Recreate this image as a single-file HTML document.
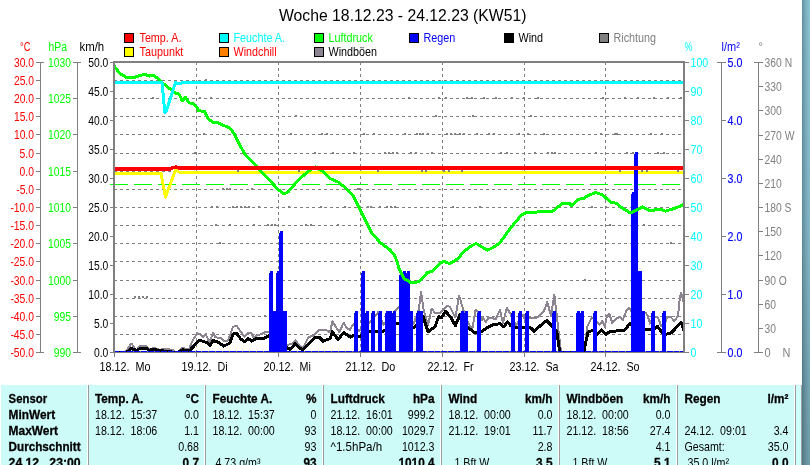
<!DOCTYPE html>
<html lang="de"><head><meta charset="utf-8"><title>Woche 18.12.23 - 24.12.23 (KW51)</title>
<style>html,body{margin:0;padding:0;background:#fff;overflow:hidden}svg{display:block;font-family:"Liberation Sans",Arial,sans-serif;font-size:12.8px}text{white-space:pre}</style></head><body>
<svg width="810" height="465" viewBox="0 0 810 465">
<defs><linearGradient id="strip" x1="0" y1="0" x2="1" y2="0"><stop offset="0" stop-color="#5a8c9e"/><stop offset="0.12" stop-color="#6a9aaa"/><stop offset="0.5" stop-color="#7fb0c0"/><stop offset="1" stop-color="#8cc6d6"/></linearGradient><linearGradient id="strip2" x1="0" y1="0" x2="0" y2="1"><stop offset="0" stop-color="#000" stop-opacity="0"/><stop offset="0.5" stop-color="#000" stop-opacity="0.06"/><stop offset="1" stop-color="#000" stop-opacity="0.2"/></linearGradient><clipPath id="pc"><rect x="114" y="62" width="571" height="291"/></clipPath></defs>
<rect width="810" height="465" fill="#fff"/>
<rect x="802" y="0" width="8" height="465" fill="url(#strip)"/>
<rect x="802" y="0" width="8" height="465" fill="url(#strip2)"/>
<g shape-rendering="crispEdges">
<rect x="124.5" y="33.5" width="9" height="9" fill="#ff0000" stroke="#000" stroke-width="1"/>
<rect x="124.5" y="47.5" width="9" height="9" fill="#ffff00" stroke="#000" stroke-width="1"/>
<rect x="219.5" y="33.5" width="9" height="9" fill="#00ffff" stroke="#000" stroke-width="1"/>
<rect x="219.5" y="47.5" width="9" height="9" fill="#ff8000" stroke="#000" stroke-width="1"/>
<rect x="314.5" y="33.5" width="9" height="9" fill="#00ff00" stroke="#000" stroke-width="1"/>
<rect x="314.5" y="47.5" width="9" height="9" fill="#8c8490" stroke="#000" stroke-width="1"/>
<rect x="409.5" y="33.5" width="9" height="9" fill="#0000ff" stroke="#000" stroke-width="1"/>
<rect x="504.5" y="33.5" width="9" height="9" fill="#000000" stroke="#000" stroke-width="1"/>
<rect x="599.5" y="33.5" width="9" height="9" fill="#808080" stroke="#000" stroke-width="1"/>
</g>
<g shape-rendering="crispEdges">
<line x1="114" x2="684" y1="80.5" y2="80.5" stroke="#808080" stroke-width="1" stroke-dasharray="3 3"/>
<line x1="114" x2="684" y1="98.5" y2="98.5" stroke="#808080" stroke-width="1" stroke-dasharray="3 3"/>
<line x1="114" x2="684" y1="116.5" y2="116.5" stroke="#808080" stroke-width="1" stroke-dasharray="3 3"/>
<line x1="114" x2="684" y1="134.5" y2="134.5" stroke="#808080" stroke-width="1" stroke-dasharray="3 3"/>
<line x1="114" x2="684" y1="153.5" y2="153.5" stroke="#808080" stroke-width="1" stroke-dasharray="3 3"/>
<line x1="114" x2="684" y1="171.5" y2="171.5" stroke="#808080" stroke-width="1" stroke-dasharray="3 3"/>
<line x1="114" x2="684" y1="189.5" y2="189.5" stroke="#808080" stroke-width="1" stroke-dasharray="3 3"/>
<line x1="114" x2="684" y1="207.5" y2="207.5" stroke="#808080" stroke-width="1" stroke-dasharray="3 3"/>
<line x1="114" x2="684" y1="225.5" y2="225.5" stroke="#808080" stroke-width="1" stroke-dasharray="3 3"/>
<line x1="114" x2="684" y1="243.5" y2="243.5" stroke="#808080" stroke-width="1" stroke-dasharray="3 3"/>
<line x1="114" x2="684" y1="261.5" y2="261.5" stroke="#808080" stroke-width="1" stroke-dasharray="3 3"/>
<line x1="114" x2="684" y1="280.5" y2="280.5" stroke="#808080" stroke-width="1" stroke-dasharray="3 3"/>
<line x1="114" x2="684" y1="298.5" y2="298.5" stroke="#808080" stroke-width="1" stroke-dasharray="3 3"/>
<line x1="114" x2="684" y1="316.5" y2="316.5" stroke="#808080" stroke-width="1" stroke-dasharray="3 3"/>
<line x1="114" x2="684" y1="334.5" y2="334.5" stroke="#808080" stroke-width="1" stroke-dasharray="3 3"/>
<line x1="196.5" x2="196.5" y1="62" y2="352" stroke="#808080" stroke-width="1" stroke-dasharray="3 3"/>
<line x1="278.5" x2="278.5" y1="62" y2="352" stroke="#808080" stroke-width="1" stroke-dasharray="3 3"/>
<line x1="360.5" x2="360.5" y1="62" y2="352" stroke="#808080" stroke-width="1" stroke-dasharray="3 3"/>
<line x1="442.5" x2="442.5" y1="62" y2="352" stroke="#808080" stroke-width="1" stroke-dasharray="3 3"/>
<line x1="524.5" x2="524.5" y1="62" y2="352" stroke="#808080" stroke-width="1" stroke-dasharray="3 3"/>
<line x1="605.5" x2="605.5" y1="62" y2="352" stroke="#808080" stroke-width="1" stroke-dasharray="3 3"/>
</g>
<g clip-path="url(#pc)" shape-rendering="crispEdges">
</g>
<g shape-rendering="crispEdges">
<line x1="110" x2="684" y1="184.5" y2="184.5" stroke="#00ff00" stroke-width="1" stroke-dasharray="18 6"/>
</g>
<g clip-path="url(#pc)" shape-rendering="crispEdges">
<rect x="114" y="351" width="570" height="1" fill="#808080"/>
<polyline points="114.0,352.6 124.8,352.6 131.4,343.6 136.2,350.5 140.5,345.5 146.2,345.5 148.7,349.3 154.3,347.8 159.9,349.9 165.5,348.6 172.3,349.9 177.0,352.6 182.3,347.8 188.6,349.9 192.9,339.9 197.3,333.4 200.4,333.7 203.1,337.4 205.6,333.7 209.4,342.4 213.1,333.0 215.6,337.4 220.6,337.7 223.7,340.9 228.1,340.5 233.0,326.8 236.8,325.8 239.9,330.5 244.3,336.8 248.0,333.0 251.1,333.0 253.6,337.4 257.4,334.9 261.1,334.3 264.8,332.4 269.2,331.8 280.0,335.0 287.0,345.0 292.3,343.6 295.4,340.5 298.5,344.3 302.5,348.6 308.7,336.8 312.4,336.2 319.3,329.7 327.4,330.5 330.0,332.4 332.4,321.4 339.3,332.4 343.6,322.7 346.7,328.0 349.9,329.9 353.6,323.7 358.6,331.2 363.0,328.0 369.8,322.4 376.0,315.0 378.5,311.8 383.5,325.0 390.0,318.0 396.2,309.9 398.7,306.8 406.0,318.0 413.7,323.6 418.7,309.9 421.1,291.8 423.6,309.9 428.0,325.5 431.7,308.7 434.9,313.0 439.9,313.0 443.0,309.9 447.3,305.6 450.0,307.0 455.4,317.4 459.2,295.6 462.9,308.7 468.5,323.6 472.3,328.6 475.6,310.0 478.0,312.0 481.8,320.0 483.1,317.4 485.6,322.4 488.7,317.4 492.0,318.0 495.6,319.3 499.9,310.0 503.0,323.0 506.8,308.1 510.5,313.7 516.1,325.0 523.0,315.0 525.0,320.0 529.8,318.0 538.0,317.4 543.6,311.8 547.3,301.9 551.0,316.2 554.3,294.5 557.3,320.0 561.0,352.6 584.0,352.6 587.4,326.2 591.8,317.4 597.4,321.8 599.3,324.9 602.4,320.6 604.9,326.8 606.7,316.8 609.2,313.7 612.3,323.0 616.1,318.7 619.8,316.8 622.9,319.9 626.1,311.2 629.2,308.1 632.0,312.0 645.4,312.5 647.9,316.2 649.9,323.6 653.0,316.2 658.0,317.4 661.1,326.1 665.0,323.0 667.4,316.8 671.1,317.4 674.2,321.1 678.0,316.2 679.8,298.7 681.1,292.5 683.6,302.4 685.0,310.0" fill="none" stroke="#8c8490" stroke-width="2" stroke-linejoin="round"/>
<polyline points="114.0,352.6 126.2,352.6 131.4,348.6 136.8,350.5 140.5,348.0 146.2,348.0 148.7,350.2 153.6,349.6 160.0,350.5 177.0,352.6 182.3,349.9 189.8,350.5 199.2,340.1 206.2,342.4 210.0,345.1 213.1,340.5 218.7,342.4 223.7,346.1 229.9,343.0 233.0,333.9 236.8,333.4 240.5,338.7 244.3,341.8 248.0,338.4 251.7,341.1 256.7,338.4 264.8,338.0 269.2,335.5 275.0,338.0 283.0,345.0 287.3,348.0 290.4,349.3 295.4,343.6 299.8,348.0 302.5,349.9 315.0,337.2 319.3,337.4 323.0,341.1 330.0,338.7 332.4,331.8 338.0,339.7 343.6,332.7 350.5,337.2 354.2,334.9 359.8,336.8 365.0,333.0 369.8,331.2 376.0,331.5 383.7,331.2 390.0,326.0 397.5,323.1 405.0,326.0 413.7,328.0 419.0,322.0 423.0,316.2 428.0,331.8 434.9,326.8 438.6,316.8 441.7,317.5 445.5,311.2 450.4,316.8 455.4,325.6 459.8,315.0 464.0,322.0 468.5,328.0 475.0,333.0 481.2,331.8 488.7,326.8 492.4,324.9 499.9,323.7 503.7,326.8 507.4,321.8 511.0,326.0 516.1,327.4 523.6,327.7 531.1,328.0 534.2,331.2 539.8,326.2 546.7,320.6 552.3,326.2 556.7,331.2 559.8,352.6 584.3,352.6 584.9,346.0 588.0,332.4 593.0,330.0 597.4,334.3 601.7,330.0 606.1,334.3 609.9,331.4 624.2,330.5 629.8,323.7 633.0,326.0 645.4,329.3 654.0,329.5 657.4,326.1 661.7,332.4 666.1,334.2 671.1,333.0 681.1,322.4 683.6,329.9 685.0,331.0" fill="none" stroke="#000" stroke-width="3" stroke-linejoin="round"/>
<polyline points="114.0,173.5 161.0,173.5 165.5,197.0 175.5,170.0 180.0,172.5 685.0,172.5" fill="none" stroke="#ffff00" stroke-width="3" stroke-linejoin="round"/>
<rect x="205" y="79" width="2" height="2" fill="#808080"/>
<rect x="152" y="97" width="2" height="2" fill="#808080"/>
<rect x="199" y="97" width="2" height="2" fill="#808080"/>
<rect x="210" y="97" width="2" height="2" fill="#808080"/>
<rect x="408" y="97" width="2" height="2" fill="#808080"/>
<rect x="438" y="97" width="2" height="2" fill="#808080"/>
<rect x="445" y="97" width="2" height="2" fill="#808080"/>
<rect x="466" y="97" width="2" height="2" fill="#808080"/>
<rect x="471" y="97" width="2" height="2" fill="#808080"/>
<rect x="483" y="97" width="2" height="2" fill="#808080"/>
<rect x="495" y="97" width="2" height="2" fill="#808080"/>
<rect x="511" y="97" width="2" height="2" fill="#808080"/>
<rect x="523" y="97" width="2" height="2" fill="#808080"/>
<rect x="537" y="97" width="2" height="2" fill="#808080"/>
<rect x="602" y="97" width="2" height="2" fill="#808080"/>
<rect x="624" y="97" width="2" height="2" fill="#808080"/>
<rect x="637" y="97" width="2" height="2" fill="#808080"/>
<rect x="653" y="97" width="2" height="2" fill="#808080"/>
<rect x="667" y="97" width="2" height="2" fill="#808080"/>
<rect x="680" y="97" width="2" height="2" fill="#808080"/>
<rect x="295" y="115" width="2" height="2" fill="#808080"/>
<rect x="435" y="115" width="2" height="2" fill="#808080"/>
<rect x="472" y="115" width="2" height="2" fill="#808080"/>
<rect x="530" y="115" width="2" height="2" fill="#808080"/>
<rect x="203" y="133" width="2" height="2" fill="#808080"/>
<rect x="290" y="133" width="2" height="2" fill="#808080"/>
<rect x="321" y="133" width="2" height="2" fill="#808080"/>
<rect x="326" y="133" width="2" height="2" fill="#808080"/>
<rect x="363" y="133" width="2" height="2" fill="#808080"/>
<rect x="373" y="133" width="2" height="2" fill="#808080"/>
<rect x="404" y="133" width="2" height="2" fill="#808080"/>
<rect x="416" y="133" width="2" height="2" fill="#808080"/>
<rect x="419" y="133" width="2" height="2" fill="#808080"/>
<rect x="422" y="133" width="2" height="2" fill="#808080"/>
<rect x="427" y="133" width="2" height="2" fill="#808080"/>
<rect x="446" y="133" width="2" height="2" fill="#808080"/>
<rect x="450" y="133" width="2" height="2" fill="#808080"/>
<rect x="454" y="133" width="2" height="2" fill="#808080"/>
<rect x="459" y="133" width="2" height="2" fill="#808080"/>
<rect x="463" y="133" width="2" height="2" fill="#808080"/>
<rect x="476" y="133" width="2" height="2" fill="#808080"/>
<rect x="488" y="133" width="2" height="2" fill="#808080"/>
<rect x="493" y="133" width="2" height="2" fill="#808080"/>
<rect x="518" y="133" width="2" height="2" fill="#808080"/>
<rect x="527" y="133" width="2" height="2" fill="#808080"/>
<rect x="543" y="133" width="2" height="2" fill="#808080"/>
<rect x="600" y="133" width="2" height="2" fill="#808080"/>
<rect x="614" y="133" width="2" height="2" fill="#808080"/>
<rect x="616" y="133" width="2" height="2" fill="#808080"/>
<rect x="650" y="133" width="2" height="2" fill="#808080"/>
<rect x="661" y="133" width="2" height="2" fill="#808080"/>
<rect x="194" y="152" width="2" height="2" fill="#808080"/>
<rect x="314" y="152" width="2" height="2" fill="#808080"/>
<rect x="332" y="152" width="2" height="2" fill="#808080"/>
<rect x="353" y="152" width="2" height="2" fill="#808080"/>
<rect x="384" y="152" width="2" height="2" fill="#808080"/>
<rect x="388" y="152" width="2" height="2" fill="#808080"/>
<rect x="392" y="152" width="2" height="2" fill="#808080"/>
<rect x="396" y="152" width="2" height="2" fill="#808080"/>
<rect x="410" y="152" width="2" height="2" fill="#808080"/>
<rect x="415" y="152" width="2" height="2" fill="#808080"/>
<rect x="431" y="152" width="2" height="2" fill="#808080"/>
<rect x="500" y="152" width="2" height="2" fill="#808080"/>
<rect x="506" y="152" width="2" height="2" fill="#808080"/>
<rect x="534" y="152" width="2" height="2" fill="#808080"/>
<rect x="547" y="152" width="2" height="2" fill="#808080"/>
<rect x="551" y="152" width="2" height="2" fill="#808080"/>
<rect x="554" y="152" width="2" height="2" fill="#808080"/>
<rect x="595" y="152" width="2" height="2" fill="#808080"/>
<rect x="626" y="152" width="2" height="2" fill="#808080"/>
<rect x="632" y="152" width="2" height="2" fill="#808080"/>
<rect x="657" y="152" width="2" height="2" fill="#808080"/>
<rect x="663" y="152" width="2" height="2" fill="#808080"/>
<rect x="237" y="170" width="2" height="2" fill="#808080"/>
<rect x="298" y="170" width="2" height="2" fill="#808080"/>
<rect x="377" y="170" width="2" height="2" fill="#808080"/>
<rect x="421" y="170" width="2" height="2" fill="#808080"/>
<rect x="425" y="170" width="2" height="2" fill="#808080"/>
<rect x="443" y="170" width="2" height="2" fill="#808080"/>
<rect x="448" y="170" width="2" height="2" fill="#808080"/>
<rect x="461" y="170" width="2" height="2" fill="#808080"/>
<rect x="619" y="170" width="2" height="2" fill="#808080"/>
<rect x="641" y="170" width="2" height="2" fill="#808080"/>
<rect x="646" y="170" width="2" height="2" fill="#808080"/>
<rect x="677" y="170" width="2" height="2" fill="#808080"/>
<rect x="222" y="188" width="2" height="2" fill="#808080"/>
<rect x="226" y="188" width="2" height="2" fill="#808080"/>
<rect x="229" y="188" width="2" height="2" fill="#808080"/>
<rect x="251" y="188" width="2" height="2" fill="#808080"/>
<rect x="357" y="188" width="2" height="2" fill="#808080"/>
<rect x="359" y="188" width="2" height="2" fill="#808080"/>
<rect x="211" y="206" width="2" height="2" fill="#808080"/>
<rect x="216" y="206" width="2" height="2" fill="#808080"/>
<rect x="232" y="206" width="2" height="2" fill="#808080"/>
<rect x="236" y="206" width="2" height="2" fill="#808080"/>
<rect x="240" y="206" width="2" height="2" fill="#808080"/>
<rect x="244" y="206" width="2" height="2" fill="#808080"/>
<rect x="248" y="206" width="2" height="2" fill="#808080"/>
<rect x="258" y="206" width="2" height="2" fill="#808080"/>
<rect x="288" y="206" width="2" height="2" fill="#808080"/>
<rect x="320" y="206" width="2" height="2" fill="#808080"/>
<rect x="344" y="206" width="2" height="2" fill="#808080"/>
<rect x="367" y="206" width="2" height="2" fill="#808080"/>
<rect x="370" y="206" width="2" height="2" fill="#808080"/>
<rect x="379" y="206" width="2" height="2" fill="#808080"/>
<rect x="386" y="206" width="2" height="2" fill="#808080"/>
<rect x="390" y="206" width="2" height="2" fill="#808080"/>
<rect x="394" y="206" width="2" height="2" fill="#808080"/>
<rect x="452" y="206" width="2" height="2" fill="#808080"/>
<rect x="479" y="206" width="2" height="2" fill="#808080"/>
<rect x="591" y="206" width="2" height="2" fill="#808080"/>
<rect x="605" y="206" width="2" height="2" fill="#808080"/>
<rect x="215" y="224" width="2" height="2" fill="#808080"/>
<rect x="229" y="224" width="2" height="2" fill="#808080"/>
<rect x="253" y="224" width="2" height="2" fill="#808080"/>
<rect x="267" y="224" width="2" height="2" fill="#808080"/>
<rect x="271" y="224" width="2" height="2" fill="#808080"/>
<rect x="274" y="224" width="2" height="2" fill="#808080"/>
<rect x="305" y="224" width="2" height="2" fill="#808080"/>
<rect x="310" y="224" width="2" height="2" fill="#808080"/>
<rect x="337" y="224" width="2" height="2" fill="#808080"/>
<rect x="609" y="224" width="2" height="2" fill="#808080"/>
<rect x="643" y="224" width="2" height="2" fill="#808080"/>
<rect x="219" y="242" width="2" height="2" fill="#808080"/>
<rect x="670" y="242" width="2" height="2" fill="#808080"/>
<rect x="349" y="260" width="2" height="2" fill="#808080"/>
<rect x="584" y="279" width="2" height="2" fill="#808080"/>
<rect x="134" y="296" width="2" height="2" fill="#808080"/>
<rect x="138" y="296" width="2" height="2" fill="#808080"/>
<rect x="142" y="296" width="2" height="2" fill="#808080"/>
<rect x="146" y="296" width="2" height="2" fill="#808080"/>
<rect x="264" y="315" width="2" height="2" fill="#808080"/>
<line x1="115" x2="683" y1="351.5" y2="351.5" stroke="#0000ff" stroke-width="1" stroke-dasharray="5.83 1" stroke-dashoffset="1.4"/>
<rect x="269" y="273" width="1" height="79" fill="#0000ff"/>
<rect x="270" y="271" width="3" height="81" fill="#0000ff"/>
<rect x="273" y="311" width="3" height="41" fill="#0000ff"/>
<rect x="276" y="273" width="1" height="79" fill="#0000ff"/>
<rect x="277" y="271" width="2" height="81" fill="#0000ff"/>
<rect x="279" y="233" width="1" height="119" fill="#0000ff"/>
<rect x="280" y="231" width="3" height="121" fill="#0000ff"/>
<rect x="283" y="311" width="4" height="41" fill="#0000ff"/>
<rect x="354" y="313" width="1" height="39" fill="#0000ff"/>
<rect x="355" y="311" width="3" height="41" fill="#0000ff"/>
<rect x="361" y="273" width="1" height="79" fill="#0000ff"/>
<rect x="362" y="271" width="3" height="81" fill="#0000ff"/>
<rect x="365" y="313" width="1" height="39" fill="#0000ff"/>
<rect x="366" y="311" width="3" height="41" fill="#0000ff"/>
<rect x="371" y="313" width="1" height="39" fill="#0000ff"/>
<rect x="372" y="311" width="3" height="41" fill="#0000ff"/>
<rect x="378" y="313" width="1" height="39" fill="#0000ff"/>
<rect x="379" y="311" width="3" height="41" fill="#0000ff"/>
<rect x="385" y="313" width="1" height="39" fill="#0000ff"/>
<rect x="386" y="311" width="6" height="41" fill="#0000ff"/>
<rect x="392" y="313" width="1" height="39" fill="#0000ff"/>
<rect x="393" y="311" width="3" height="41" fill="#0000ff"/>
<rect x="399" y="275" width="1" height="77" fill="#0000ff"/>
<rect x="400" y="273" width="3" height="79" fill="#0000ff"/>
<rect x="403" y="271" width="3" height="81" fill="#0000ff"/>
<rect x="406" y="273" width="1" height="79" fill="#0000ff"/>
<rect x="407" y="271" width="3" height="81" fill="#0000ff"/>
<rect x="410" y="311" width="3" height="41" fill="#0000ff"/>
<rect x="416" y="313" width="1" height="39" fill="#0000ff"/>
<rect x="417" y="311" width="6" height="41" fill="#0000ff"/>
<rect x="460" y="313" width="1" height="39" fill="#0000ff"/>
<rect x="461" y="311" width="3" height="41" fill="#0000ff"/>
<rect x="464" y="313" width="1" height="39" fill="#0000ff"/>
<rect x="465" y="311" width="3" height="41" fill="#0000ff"/>
<rect x="477" y="313" width="1" height="39" fill="#0000ff"/>
<rect x="478" y="311" width="3" height="41" fill="#0000ff"/>
<rect x="511" y="313" width="1" height="39" fill="#0000ff"/>
<rect x="512" y="311" width="3" height="41" fill="#0000ff"/>
<rect x="518" y="313" width="1" height="39" fill="#0000ff"/>
<rect x="519" y="311" width="3" height="41" fill="#0000ff"/>
<rect x="525" y="313" width="1" height="39" fill="#0000ff"/>
<rect x="526" y="311" width="3" height="41" fill="#0000ff"/>
<rect x="552" y="313" width="1" height="39" fill="#0000ff"/>
<rect x="553" y="311" width="3" height="41" fill="#0000ff"/>
<rect x="576" y="313" width="1" height="39" fill="#0000ff"/>
<rect x="577" y="311" width="3" height="41" fill="#0000ff"/>
<rect x="580" y="313" width="1" height="39" fill="#0000ff"/>
<rect x="581" y="311" width="3" height="41" fill="#0000ff"/>
<rect x="593" y="313" width="1" height="39" fill="#0000ff"/>
<rect x="594" y="311" width="3" height="41" fill="#0000ff"/>
<rect x="631" y="194" width="1" height="158" fill="#0000ff"/>
<rect x="632" y="192" width="2" height="160" fill="#0000ff"/>
<rect x="634" y="154" width="1" height="198" fill="#0000ff"/>
<rect x="635" y="152" width="3" height="200" fill="#0000ff"/>
<rect x="638" y="271" width="4" height="81" fill="#0000ff"/>
<rect x="642" y="311" width="3" height="41" fill="#0000ff"/>
<rect x="651" y="313" width="1" height="39" fill="#0000ff"/>
<rect x="652" y="311" width="3" height="41" fill="#0000ff"/>
<rect x="662" y="313" width="1" height="39" fill="#0000ff"/>
<rect x="663" y="311" width="3" height="41" fill="#0000ff"/>
<polyline points="114.4,66.2 119.9,73.6 127.3,77.8 134.7,77.3 140.9,75.3 144.6,74.3 149.6,76.1 153.3,75.3 158.2,78.5 163.2,83.5 169.3,88.4 174.8,92.8 179.2,94.3 182.3,100.8 185.4,97.4 189.2,102.8 192.9,103.6 196.0,106.1 198.5,110.5 204.8,111.7 207.7,118.1 212.6,122.3 217.5,122.3 223.7,125.5 229.9,128.0 233.6,132.9 238.6,142.8 244.7,153.9 253.4,162.6 263.3,173.7 268.2,178.4 278.1,189.6 284.3,194.0 288.0,192.0 295.4,183.4 300.0,178.4 308.7,171.0 315.3,166.8 322.2,171.0 329.7,178.4 338.3,182.1 344.5,187.1 353.2,195.7 360.6,210.6 371.7,232.8 380.3,242.7 390.2,250.1 395.2,256.3 398.9,268.0 403.8,278.4 410.0,282.1 415.0,282.9 419.9,280.9 427.3,272.7 432.3,271.0 438.4,264.8 443.4,261.1 449.6,263.6 458.2,258.7 463.2,252.0 470.6,246.4 476.0,243.4 481.7,246.9 487.9,250.1 494.1,246.9 499.9,242.7 509.8,229.1 520.9,215.5 527.1,212.3 543.2,211.8 551.8,211.8 561.7,203.9 569.1,203.2 571.6,205.6 577.8,199.4 583.9,198.2 588.9,195.2 595.8,192.5 602.5,195.0 611.1,202.4 616.1,203.2 622.3,208.1 630.4,213.0 638.3,209.3 642.8,206.9 649.5,210.6 660.6,209.3 665.5,211.1 675.4,208.1 682.8,204.9 685.0,204.0" fill="none" stroke="#00ff00" stroke-width="3" stroke-linejoin="round"/>
<polyline points="114.0,82.5 162.0,82.5 164.8,112.5 166.0,112.0 170.5,98.0 175.5,82.5 177.0,83.5 180.5,83.5 182.0,82.5 685.0,82.5" fill="none" stroke="#00ffff" stroke-width="3" stroke-linejoin="round"/>
<polyline points="114.0,169.0 170.0,169.0 171.5,168.0 176.0,167.2 180.0,168.0 685.0,168.0" fill="none" stroke="#ff0000" stroke-width="3.6" stroke-linejoin="round"/>
</g>
<g shape-rendering="crispEdges">
<rect x="113" y="61" width="572" height="2" fill="#808080"/>
<rect x="113" y="61" width="2" height="292" fill="#808080"/>
<rect x="683" y="61" width="2" height="292" fill="#808080"/>
<rect x="113" y="352" width="572" height="1" fill="#808080"/>
<rect x="114" y="352" width="1" height="5" fill="#808080"/>
<rect x="196" y="352" width="1" height="5" fill="#808080"/>
<rect x="278" y="352" width="1" height="5" fill="#808080"/>
<rect x="360" y="352" width="1" height="5" fill="#808080"/>
<rect x="442" y="352" width="1" height="5" fill="#808080"/>
<rect x="524" y="352" width="1" height="5" fill="#808080"/>
<rect x="605" y="352" width="1" height="5" fill="#808080"/>
<rect x="40" y="62" width="1" height="291" fill="#808080"/>
<rect x="36" y="62" width="4" height="1" fill="#808080"/>
<rect x="36" y="80" width="4" height="1" fill="#808080"/>
<rect x="36" y="98" width="4" height="1" fill="#808080"/>
<rect x="36" y="116" width="4" height="1" fill="#808080"/>
<rect x="36" y="134" width="4" height="1" fill="#808080"/>
<rect x="36" y="153" width="4" height="1" fill="#808080"/>
<rect x="36" y="171" width="4" height="1" fill="#808080"/>
<rect x="36" y="189" width="4" height="1" fill="#808080"/>
<rect x="36" y="207" width="4" height="1" fill="#808080"/>
<rect x="36" y="225" width="4" height="1" fill="#808080"/>
<rect x="36" y="243" width="4" height="1" fill="#808080"/>
<rect x="36" y="261" width="4" height="1" fill="#808080"/>
<rect x="36" y="280" width="4" height="1" fill="#808080"/>
<rect x="36" y="298" width="4" height="1" fill="#808080"/>
<rect x="36" y="316" width="4" height="1" fill="#808080"/>
<rect x="36" y="334" width="4" height="1" fill="#808080"/>
<rect x="36" y="352" width="4" height="1" fill="#808080"/>
<rect x="40" y="62" width="4" height="1" fill="#808080"/>
<rect x="40" y="352" width="4" height="1" fill="#808080"/>
<rect x="77" y="62" width="1" height="291" fill="#808080"/>
<rect x="73" y="62" width="4" height="1" fill="#808080"/>
<rect x="73" y="98" width="4" height="1" fill="#808080"/>
<rect x="73" y="134" width="4" height="1" fill="#808080"/>
<rect x="73" y="171" width="4" height="1" fill="#808080"/>
<rect x="73" y="207" width="4" height="1" fill="#808080"/>
<rect x="73" y="243" width="4" height="1" fill="#808080"/>
<rect x="73" y="280" width="4" height="1" fill="#808080"/>
<rect x="73" y="316" width="4" height="1" fill="#808080"/>
<rect x="73" y="352" width="4" height="1" fill="#808080"/>
<rect x="77" y="62" width="4" height="1" fill="#808080"/>
<rect x="77" y="352" width="4" height="1" fill="#808080"/>
<rect x="110" y="62" width="4" height="1" fill="#808080"/>
<rect x="110" y="91" width="4" height="1" fill="#808080"/>
<rect x="110" y="120" width="4" height="1" fill="#808080"/>
<rect x="110" y="149" width="4" height="1" fill="#808080"/>
<rect x="110" y="178" width="4" height="1" fill="#808080"/>
<rect x="110" y="207" width="4" height="1" fill="#808080"/>
<rect x="110" y="236" width="4" height="1" fill="#808080"/>
<rect x="110" y="265" width="4" height="1" fill="#808080"/>
<rect x="110" y="294" width="4" height="1" fill="#808080"/>
<rect x="110" y="323" width="4" height="1" fill="#808080"/>
<rect x="110" y="352" width="4" height="1" fill="#808080"/>
<rect x="685" y="62" width="4" height="1" fill="#808080"/>
<rect x="685" y="91" width="4" height="1" fill="#808080"/>
<rect x="685" y="120" width="4" height="1" fill="#808080"/>
<rect x="685" y="149" width="4" height="1" fill="#808080"/>
<rect x="685" y="178" width="4" height="1" fill="#808080"/>
<rect x="685" y="207" width="4" height="1" fill="#808080"/>
<rect x="685" y="236" width="4" height="1" fill="#808080"/>
<rect x="685" y="265" width="4" height="1" fill="#808080"/>
<rect x="685" y="294" width="4" height="1" fill="#808080"/>
<rect x="685" y="323" width="4" height="1" fill="#808080"/>
<rect x="685" y="352" width="4" height="1" fill="#808080"/>
<rect x="721" y="62" width="1" height="291" fill="#808080"/>
<rect x="721" y="62" width="5" height="1" fill="#808080"/>
<rect x="721" y="120" width="5" height="1" fill="#808080"/>
<rect x="721" y="178" width="5" height="1" fill="#808080"/>
<rect x="721" y="236" width="5" height="1" fill="#808080"/>
<rect x="721" y="294" width="5" height="1" fill="#808080"/>
<rect x="721" y="352" width="5" height="1" fill="#808080"/>
<rect x="717" y="62" width="4" height="1" fill="#808080"/>
<rect x="717" y="352" width="4" height="1" fill="#808080"/>
<rect x="758" y="62" width="1" height="291" fill="#808080"/>
<rect x="758" y="62" width="5" height="1" fill="#808080"/>
<rect x="758" y="86" width="5" height="1" fill="#808080"/>
<rect x="758" y="110" width="5" height="1" fill="#808080"/>
<rect x="758" y="135" width="5" height="1" fill="#808080"/>
<rect x="758" y="159" width="5" height="1" fill="#808080"/>
<rect x="758" y="183" width="5" height="1" fill="#808080"/>
<rect x="758" y="207" width="5" height="1" fill="#808080"/>
<rect x="758" y="231" width="5" height="1" fill="#808080"/>
<rect x="758" y="255" width="5" height="1" fill="#808080"/>
<rect x="758" y="280" width="5" height="1" fill="#808080"/>
<rect x="758" y="304" width="5" height="1" fill="#808080"/>
<rect x="758" y="328" width="5" height="1" fill="#808080"/>
<rect x="758" y="352" width="5" height="1" fill="#808080"/>
<rect x="754" y="62" width="4" height="1" fill="#808080"/>
<rect x="754" y="352" width="4" height="1" fill="#808080"/>
</g>
<g shape-rendering="crispEdges">
<rect x="1" y="385" width="800" height="80" fill="#cdfbf8"/>
<rect x="87" y="385" width="1" height="80" fill="#ffffff"/>
<rect x="88" y="385" width="1" height="80" fill="#9c9a9c"/>
<rect x="204" y="385" width="1" height="80" fill="#ffffff"/>
<rect x="205" y="385" width="1" height="80" fill="#9c9a9c"/>
<rect x="322" y="385" width="1" height="80" fill="#ffffff"/>
<rect x="323" y="385" width="1" height="80" fill="#9c9a9c"/>
<rect x="440" y="385" width="1" height="80" fill="#ffffff"/>
<rect x="441" y="385" width="1" height="80" fill="#9c9a9c"/>
<rect x="558" y="385" width="1" height="80" fill="#ffffff"/>
<rect x="559" y="385" width="1" height="80" fill="#9c9a9c"/>
<rect x="676" y="385" width="1" height="80" fill="#ffffff"/>
<rect x="677" y="385" width="1" height="80" fill="#9c9a9c"/>
<rect x="794" y="385" width="1" height="80" fill="#ffffff"/>
<rect x="795" y="385" width="1" height="80" fill="#9c9a9c"/>
<rect x="796" y="385" width="5" height="80" fill="#cffffb"/>
<rect x="801" y="385" width="1" height="80" fill="#a0a0a0"/>
</g>
<g>
<text x="279" y="20.5" textLength="247.5" lengthAdjust="spacingAndGlyphs" font-size="15.7">Woche 18.12.23 - 24.12.23 (KW51)</text>
<text x="139.5" y="41.7" textLength="41.9" lengthAdjust="spacingAndGlyphs" fill="#ff0000">Temp. A.</text>
<text x="139.5" y="55.7" textLength="43.8" lengthAdjust="spacingAndGlyphs" fill="#ff0000">Taupunkt</text>
<text x="233.5" y="41.7" textLength="51.5" lengthAdjust="spacingAndGlyphs" fill="#00ffff">Feuchte A.</text>
<text x="233.5" y="55.7" textLength="43.1" lengthAdjust="spacingAndGlyphs" fill="#ff0000">Windchill</text>
<text x="328.5" y="41.7" textLength="44.3" lengthAdjust="spacingAndGlyphs" fill="#00ff00">Luftdruck</text>
<text x="328.5" y="55.7" textLength="48.5" lengthAdjust="spacingAndGlyphs">Windböen</text>
<text x="423.5" y="41.7" textLength="31.8" lengthAdjust="spacingAndGlyphs" fill="#0000ff">Regen</text>
<text x="518.5" y="41.7" textLength="24.6" lengthAdjust="spacingAndGlyphs">Wind</text>
<text x="613.5" y="41.7" textLength="42.5" lengthAdjust="spacingAndGlyphs" fill="#808080">Richtung</text>
<text x="34" y="66.6" text-anchor="end" textLength="20.1" lengthAdjust="spacingAndGlyphs" fill="#ff0000">30.0</text>
<text x="34" y="84.6" text-anchor="end" textLength="20.1" lengthAdjust="spacingAndGlyphs" fill="#ff0000">25.0</text>
<text x="34" y="102.6" text-anchor="end" textLength="20.1" lengthAdjust="spacingAndGlyphs" fill="#ff0000">20.0</text>
<text x="34" y="120.6" text-anchor="end" textLength="20.1" lengthAdjust="spacingAndGlyphs" fill="#ff0000">15.0</text>
<text x="34" y="138.6" text-anchor="end" textLength="20.1" lengthAdjust="spacingAndGlyphs" fill="#ff0000">10.0</text>
<text x="34" y="157.6" text-anchor="end" textLength="14.4" lengthAdjust="spacingAndGlyphs" fill="#ff0000">5.0</text>
<text x="34" y="175.6" text-anchor="end" textLength="14.4" lengthAdjust="spacingAndGlyphs" fill="#ff0000">0.0</text>
<text x="34" y="193.6" text-anchor="end" textLength="17.8" lengthAdjust="spacingAndGlyphs" fill="#ff0000">-5.0</text>
<text x="34" y="211.6" text-anchor="end" textLength="23.6" lengthAdjust="spacingAndGlyphs" fill="#ff0000">-10.0</text>
<text x="34" y="229.6" text-anchor="end" textLength="23.6" lengthAdjust="spacingAndGlyphs" fill="#ff0000">-15.0</text>
<text x="34" y="247.6" text-anchor="end" textLength="23.6" lengthAdjust="spacingAndGlyphs" fill="#ff0000">-20.0</text>
<text x="34" y="265.6" text-anchor="end" textLength="23.6" lengthAdjust="spacingAndGlyphs" fill="#ff0000">-25.0</text>
<text x="34" y="284.6" text-anchor="end" textLength="23.6" lengthAdjust="spacingAndGlyphs" fill="#ff0000">-30.0</text>
<text x="34" y="302.6" text-anchor="end" textLength="23.6" lengthAdjust="spacingAndGlyphs" fill="#ff0000">-35.0</text>
<text x="34" y="320.6" text-anchor="end" textLength="23.6" lengthAdjust="spacingAndGlyphs" fill="#ff0000">-40.0</text>
<text x="34" y="338.6" text-anchor="end" textLength="23.6" lengthAdjust="spacingAndGlyphs" fill="#ff0000">-45.0</text>
<text x="34" y="356.6" text-anchor="end" textLength="23.6" lengthAdjust="spacingAndGlyphs" fill="#ff0000">-50.0</text>
<text x="71" y="66.6" text-anchor="end" textLength="23.0" lengthAdjust="spacingAndGlyphs" fill="#00ff00">1030</text>
<text x="71" y="102.6" text-anchor="end" textLength="23.0" lengthAdjust="spacingAndGlyphs" fill="#00ff00">1025</text>
<text x="71" y="138.6" text-anchor="end" textLength="23.0" lengthAdjust="spacingAndGlyphs" fill="#00ff00">1020</text>
<text x="71" y="175.6" text-anchor="end" textLength="23.0" lengthAdjust="spacingAndGlyphs" fill="#00ff00">1015</text>
<text x="71" y="211.6" text-anchor="end" textLength="23.0" lengthAdjust="spacingAndGlyphs" fill="#00ff00">1010</text>
<text x="71" y="247.6" text-anchor="end" textLength="23.0" lengthAdjust="spacingAndGlyphs" fill="#00ff00">1005</text>
<text x="71" y="284.6" text-anchor="end" textLength="23.0" lengthAdjust="spacingAndGlyphs" fill="#00ff00">1000</text>
<text x="71" y="320.6" text-anchor="end" textLength="17.3" lengthAdjust="spacingAndGlyphs" fill="#00ff00">995</text>
<text x="71" y="356.6" text-anchor="end" textLength="17.3" lengthAdjust="spacingAndGlyphs" fill="#00ff00">990</text>
<text x="108.3" y="66.6" text-anchor="end" textLength="20.1" lengthAdjust="spacingAndGlyphs">50.0</text>
<text x="108.3" y="95.6" text-anchor="end" textLength="20.1" lengthAdjust="spacingAndGlyphs">45.0</text>
<text x="108.3" y="124.6" text-anchor="end" textLength="20.1" lengthAdjust="spacingAndGlyphs">40.0</text>
<text x="108.3" y="153.6" text-anchor="end" textLength="20.1" lengthAdjust="spacingAndGlyphs">35.0</text>
<text x="108.3" y="182.6" text-anchor="end" textLength="20.1" lengthAdjust="spacingAndGlyphs">30.0</text>
<text x="108.3" y="211.6" text-anchor="end" textLength="20.1" lengthAdjust="spacingAndGlyphs">25.0</text>
<text x="108.3" y="240.6" text-anchor="end" textLength="20.1" lengthAdjust="spacingAndGlyphs">20.0</text>
<text x="108.3" y="269.6" text-anchor="end" textLength="20.1" lengthAdjust="spacingAndGlyphs">15.0</text>
<text x="108.3" y="298.6" text-anchor="end" textLength="20.1" lengthAdjust="spacingAndGlyphs">10.0</text>
<text x="108.3" y="327.6" text-anchor="end" textLength="14.4" lengthAdjust="spacingAndGlyphs">5.0</text>
<text x="108.3" y="356.6" text-anchor="end" textLength="14.4" lengthAdjust="spacingAndGlyphs">0.0</text>
<text x="690.5" y="66.6" textLength="17.8" lengthAdjust="spacingAndGlyphs" fill="#00ffff">100</text>
<text x="690.5" y="95.6" textLength="11.9" lengthAdjust="spacingAndGlyphs" fill="#00ffff">90</text>
<text x="690.5" y="124.6" textLength="11.9" lengthAdjust="spacingAndGlyphs" fill="#00ffff">80</text>
<text x="690.5" y="153.6" textLength="11.9" lengthAdjust="spacingAndGlyphs" fill="#00ffff">70</text>
<text x="690.5" y="182.6" textLength="11.9" lengthAdjust="spacingAndGlyphs" fill="#00ffff">60</text>
<text x="690.5" y="211.6" textLength="11.9" lengthAdjust="spacingAndGlyphs" fill="#00ffff">50</text>
<text x="690.5" y="240.6" textLength="11.9" lengthAdjust="spacingAndGlyphs" fill="#00ffff">40</text>
<text x="690.5" y="269.6" textLength="11.9" lengthAdjust="spacingAndGlyphs" fill="#00ffff">30</text>
<text x="690.5" y="298.6" textLength="11.9" lengthAdjust="spacingAndGlyphs" fill="#00ffff">20</text>
<text x="690.5" y="327.6" textLength="11.9" lengthAdjust="spacingAndGlyphs" fill="#00ffff">10</text>
<text x="690.5" y="356.6" textLength="5.9" lengthAdjust="spacingAndGlyphs" fill="#00ffff">0</text>
<text x="727.5" y="66.6" textLength="14.8" lengthAdjust="spacingAndGlyphs" fill="#0000ff" stroke="#0000ff" stroke-width="0.15">5.0</text>
<text x="727.5" y="124.6" textLength="14.8" lengthAdjust="spacingAndGlyphs" fill="#0000ff" stroke="#0000ff" stroke-width="0.15">4.0</text>
<text x="727.5" y="182.6" textLength="14.8" lengthAdjust="spacingAndGlyphs" fill="#0000ff" stroke="#0000ff" stroke-width="0.15">3.0</text>
<text x="727.5" y="240.6" textLength="14.8" lengthAdjust="spacingAndGlyphs" fill="#0000ff" stroke="#0000ff" stroke-width="0.15">2.0</text>
<text x="727.5" y="298.6" textLength="14.8" lengthAdjust="spacingAndGlyphs" fill="#0000ff" stroke="#0000ff" stroke-width="0.15">1.0</text>
<text x="727.5" y="356.6" textLength="14.8" lengthAdjust="spacingAndGlyphs" fill="#0000ff" stroke="#0000ff" stroke-width="0.15">0.0</text>
<text x="764.5" y="66.6" textLength="27.6" lengthAdjust="spacingAndGlyphs" fill="#808080">360 N</text>
<text x="764.5" y="90.6" textLength="17.3" lengthAdjust="spacingAndGlyphs" fill="#808080">330</text>
<text x="764.5" y="114.6" textLength="17.3" lengthAdjust="spacingAndGlyphs" fill="#808080">300</text>
<text x="764.5" y="139.6" textLength="29.9" lengthAdjust="spacingAndGlyphs" fill="#808080">270 W</text>
<text x="764.5" y="163.6" textLength="17.3" lengthAdjust="spacingAndGlyphs" fill="#808080">240</text>
<text x="764.5" y="187.6" textLength="17.3" lengthAdjust="spacingAndGlyphs" fill="#808080">210</text>
<text x="764.5" y="211.6" textLength="27.0" lengthAdjust="spacingAndGlyphs" fill="#808080">180 S</text>
<text x="764.5" y="235.6" textLength="17.3" lengthAdjust="spacingAndGlyphs" fill="#808080">150</text>
<text x="764.5" y="259.6" textLength="17.3" lengthAdjust="spacingAndGlyphs" fill="#808080">120</text>
<text x="764.5" y="284.6" textLength="22.4" lengthAdjust="spacingAndGlyphs" fill="#808080">90 O</text>
<text x="764.5" y="308.6" textLength="11.5" lengthAdjust="spacingAndGlyphs" fill="#808080">60</text>
<text x="764.5" y="332.6" textLength="11.5" lengthAdjust="spacingAndGlyphs" fill="#808080">30</text>
<text x="764.5" y="356.6" textLength="6.1" lengthAdjust="spacingAndGlyphs" fill="#808080">0</text>
<text x="782.5" y="356.6" textLength="7.9" lengthAdjust="spacingAndGlyphs" fill="#808080">N</text>
<text x="20" y="50.5" textLength="10.5" lengthAdjust="spacingAndGlyphs" fill="#ff0000">°C</text>
<text x="48.5" y="50.5" textLength="18.5" lengthAdjust="spacingAndGlyphs" fill="#00ff00">hPa</text>
<text x="79.5" y="50.5" textLength="24.7" lengthAdjust="spacingAndGlyphs">km/h</text>
<text x="684.5" y="50.5" textLength="8" lengthAdjust="spacingAndGlyphs" fill="#00ffff">%</text>
<text x="721.5" y="50.5" textLength="18.3" lengthAdjust="spacingAndGlyphs" fill="#0000ff">l/m²</text>
<text x="758.5" y="50.5" textLength="4.4" lengthAdjust="spacingAndGlyphs" fill="#808080">°</text>
<text x="99.5" y="371" textLength="50.9" lengthAdjust="spacingAndGlyphs">18.12.  Mo</text>
<text x="181.5" y="371" textLength="46.1" lengthAdjust="spacingAndGlyphs">19.12.  Di</text>
<text x="263.5" y="371" textLength="47.3" lengthAdjust="spacingAndGlyphs">20.12.  Mi</text>
<text x="345.5" y="371" textLength="49.7" lengthAdjust="spacingAndGlyphs">21.12.  Do</text>
<text x="427.5" y="371" textLength="46.1" lengthAdjust="spacingAndGlyphs">22.12.  Fr</text>
<text x="509.5" y="371" textLength="49.1" lengthAdjust="spacingAndGlyphs">23.12.  Sa</text>
<text x="590.5" y="371" textLength="49.1" lengthAdjust="spacingAndGlyphs">24.12.  So</text>
<text x="8.6" y="403" font-weight="bold" textLength="38.5" lengthAdjust="spacingAndGlyphs" stroke="#000" stroke-width="0.3">Sensor</text>
<text x="8.6" y="419" font-weight="bold" textLength="46.5" lengthAdjust="spacingAndGlyphs" stroke="#000" stroke-width="0.3">MinWert</text>
<text x="8.6" y="435" font-weight="bold" textLength="49.5" lengthAdjust="spacingAndGlyphs" stroke="#000" stroke-width="0.3">MaxWert</text>
<text x="8.6" y="451" font-weight="bold" textLength="72" lengthAdjust="spacingAndGlyphs" stroke="#000" stroke-width="0.3">Durchschnitt</text>
<text x="8.6" y="467" font-weight="bold" textLength="72" lengthAdjust="spacingAndGlyphs" stroke="#000" stroke-width="0.3">24.12.  23:00</text>
<text x="95" y="403" font-weight="bold" textLength="48.4" lengthAdjust="spacingAndGlyphs" stroke="#000" stroke-width="0.3">Temp. A.</text>
<text x="199" y="403" text-anchor="end" font-weight="bold" textLength="13.2" lengthAdjust="spacingAndGlyphs" stroke="#000" stroke-width="0.3">°C</text>
<text x="95" y="419" textLength="62.3" lengthAdjust="spacingAndGlyphs">18.12.  15:37</text>
<text x="199" y="419" text-anchor="end" textLength="14.8" lengthAdjust="spacingAndGlyphs">0.0</text>
<text x="95" y="435" textLength="62.3" lengthAdjust="spacingAndGlyphs">18.12.  18:06</text>
<text x="199" y="435" text-anchor="end" textLength="14.8" lengthAdjust="spacingAndGlyphs">1.1</text>
<text x="199" y="451" text-anchor="end" textLength="20.8" lengthAdjust="spacingAndGlyphs">0.68</text>
<text x="199" y="467" text-anchor="end" font-weight="bold" textLength="16.4" lengthAdjust="spacingAndGlyphs" stroke="#000" stroke-width="0.3">0.7</text>
<text x="212.5" y="403" font-weight="bold" textLength="59.7" lengthAdjust="spacingAndGlyphs" stroke="#000" stroke-width="0.3">Feuchte A.</text>
<text x="316.5" y="403" text-anchor="end" font-weight="bold" textLength="10.5" lengthAdjust="spacingAndGlyphs" stroke="#000" stroke-width="0.3">%</text>
<text x="212.5" y="419" textLength="62.3" lengthAdjust="spacingAndGlyphs">18.12.  15:37</text>
<text x="316.5" y="419" text-anchor="end" textLength="5.9" lengthAdjust="spacingAndGlyphs">0</text>
<text x="212.5" y="435" textLength="62.3" lengthAdjust="spacingAndGlyphs">18.12.  00:00</text>
<text x="316.5" y="435" text-anchor="end" textLength="11.9" lengthAdjust="spacingAndGlyphs">93</text>
<text x="316.5" y="451" text-anchor="end" textLength="11.9" lengthAdjust="spacingAndGlyphs">93</text>
<text x="212.5" y="467" textLength="48.0" lengthAdjust="spacingAndGlyphs"> 4.73 g/m³</text>
<text x="316.5" y="467" text-anchor="end" font-weight="bold" textLength="13.1" lengthAdjust="spacingAndGlyphs" stroke="#000" stroke-width="0.3">93</text>
<text x="330.5" y="403" font-weight="bold" textLength="54.3" lengthAdjust="spacingAndGlyphs" stroke="#000" stroke-width="0.3">Luftdruck</text>
<text x="434.5" y="403" text-anchor="end" font-weight="bold" textLength="21.6" lengthAdjust="spacingAndGlyphs" stroke="#000" stroke-width="0.3">hPa</text>
<text x="330.5" y="419" textLength="62.3" lengthAdjust="spacingAndGlyphs">21.12.  16:01</text>
<text x="434.5" y="419" text-anchor="end" textLength="26.7" lengthAdjust="spacingAndGlyphs">999.2</text>
<text x="330.5" y="435" textLength="62.3" lengthAdjust="spacingAndGlyphs">18.12.  00:00</text>
<text x="434.5" y="435" text-anchor="end" textLength="32.6" lengthAdjust="spacingAndGlyphs">1029.7</text>
<text x="330.5" y="451" textLength="51.7" lengthAdjust="spacingAndGlyphs">^1.5hPa/h</text>
<text x="434.5" y="451" text-anchor="end" textLength="32.6" lengthAdjust="spacingAndGlyphs">1012.3</text>
<text x="434.5" y="467" text-anchor="end" font-weight="bold" textLength="36.0" lengthAdjust="spacingAndGlyphs" stroke="#000" stroke-width="0.3">1010.4</text>
<text x="448.5" y="403" font-weight="bold" textLength="28.7" lengthAdjust="spacingAndGlyphs" stroke="#000" stroke-width="0.3">Wind</text>
<text x="552.5" y="403" text-anchor="end" font-weight="bold" textLength="27.5" lengthAdjust="spacingAndGlyphs" stroke="#000" stroke-width="0.3">km/h</text>
<text x="448.5" y="419" textLength="62.3" lengthAdjust="spacingAndGlyphs">18.12.  00:00</text>
<text x="552.5" y="419" text-anchor="end" textLength="14.8" lengthAdjust="spacingAndGlyphs">0.0</text>
<text x="448.5" y="435" textLength="62.3" lengthAdjust="spacingAndGlyphs">21.12.  19:01</text>
<text x="552.5" y="435" text-anchor="end" textLength="20.0" lengthAdjust="spacingAndGlyphs">11.7</text>
<text x="552.5" y="451" text-anchor="end" textLength="14.8" lengthAdjust="spacingAndGlyphs">2.8</text>
<text x="448.5" y="467" textLength="40.9" lengthAdjust="spacingAndGlyphs">  1 Bft W</text>
<text x="552.5" y="467" text-anchor="end" font-weight="bold" textLength="16.4" lengthAdjust="spacingAndGlyphs" stroke="#000" stroke-width="0.3">3.5</text>
<text x="566.5" y="403" font-weight="bold" textLength="56.8" lengthAdjust="spacingAndGlyphs" stroke="#000" stroke-width="0.3">Windböen</text>
<text x="670.5" y="403" text-anchor="end" font-weight="bold" textLength="27.5" lengthAdjust="spacingAndGlyphs" stroke="#000" stroke-width="0.3">km/h</text>
<text x="566.5" y="419" textLength="62.3" lengthAdjust="spacingAndGlyphs">18.12.  00:00</text>
<text x="670.5" y="419" text-anchor="end" textLength="14.8" lengthAdjust="spacingAndGlyphs">0.0</text>
<text x="566.5" y="435" textLength="62.3" lengthAdjust="spacingAndGlyphs">21.12.  18:56</text>
<text x="670.5" y="435" text-anchor="end" textLength="20.8" lengthAdjust="spacingAndGlyphs">27.4</text>
<text x="670.5" y="451" text-anchor="end" textLength="14.8" lengthAdjust="spacingAndGlyphs">4.1</text>
<text x="566.5" y="467" textLength="40.9" lengthAdjust="spacingAndGlyphs">  1 Bft W</text>
<text x="670.5" y="467" text-anchor="end" font-weight="bold" textLength="16.4" lengthAdjust="spacingAndGlyphs" stroke="#000" stroke-width="0.3">5.1</text>
<text x="684.5" y="403" font-weight="bold" textLength="36.0" lengthAdjust="spacingAndGlyphs" stroke="#000" stroke-width="0.3">Regen</text>
<text x="788.5" y="403" text-anchor="end" font-weight="bold" textLength="20.9" lengthAdjust="spacingAndGlyphs" stroke="#000" stroke-width="0.3">l/m²</text>
<text x="684.5" y="435" textLength="62.3" lengthAdjust="spacingAndGlyphs">24.12.  09:01</text>
<text x="788.5" y="435" text-anchor="end" textLength="14.8" lengthAdjust="spacingAndGlyphs">3.4</text>
<text x="684.5" y="451" textLength="40.3" lengthAdjust="spacingAndGlyphs">Gesamt:</text>
<text x="788.5" y="451" text-anchor="end" textLength="20.8" lengthAdjust="spacingAndGlyphs">35.0</text>
<text x="684.5" y="467" textLength="44.5" lengthAdjust="spacingAndGlyphs"> 35.0 l/m²</text>
<text x="788.5" y="467" text-anchor="end" font-weight="bold" textLength="16.4" lengthAdjust="spacingAndGlyphs" stroke="#000" stroke-width="0.3">0.0</text>
</g>
</svg></body></html>
